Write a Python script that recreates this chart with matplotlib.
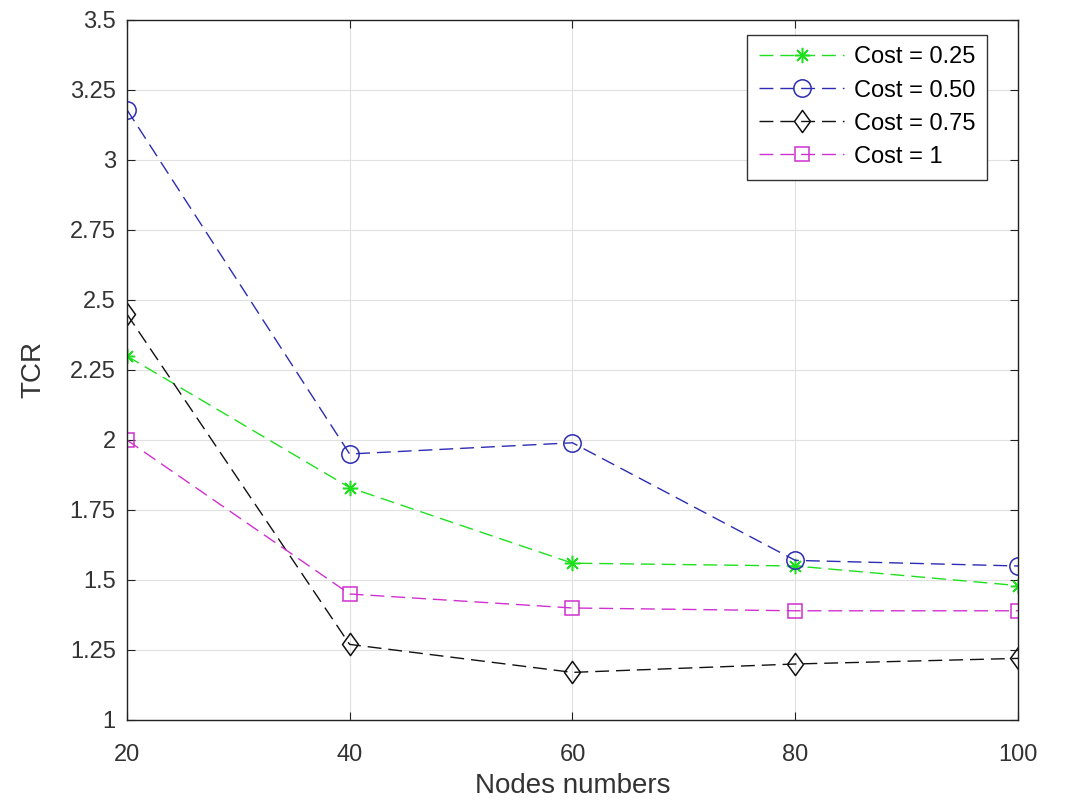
import numpy as np
import matplotlib.pyplot as plt
from matplotlib.path import Path

plt.rcParams['font.family'] = ['Liberation Sans', 'DejaVu Sans']

nodes = [20, 40, 60, 80, 100]
cost_025 = [2.30, 1.83, 1.56, 1.55, 1.48]
cost_050 = [3.18, 1.95, 1.99, 1.57, 1.55]
cost_075 = [2.45, 1.27, 1.17, 1.20, 1.22]
cost_100 = [2.00, 1.45, 1.40, 1.39, 1.39]

labels = ['Cost = 0.25', 'Cost = 0.50', 'Cost = 0.75', 'Cost = 1']
yticks = [1, 1.25, 1.5, 1.75, 2, 2.25, 2.5, 2.75, 3, 3.25, 3.5]
ytick_labels = ['1', '1.25', '1.5', '1.75', '2', '2.25', '2.5', '2.75', '3', '3.25', '3.5']

# matlab style diamond (a bit taller than wide)
diamond = Path([(0, 1), (0.72, 0), (0, -1), (-0.72, 0), (0, 1)],
               [Path.MOVETO, Path.LINETO, Path.LINETO, Path.LINETO, Path.CLOSEPOLY])

fig = plt.figure(figsize=(10.66, 8.05), dpi=100)
ax = fig.add_axes([0.119, 0.1056, 0.836, 0.8696])

styles = [
    (cost_025, '#1ee01e', (8, 2, 0), 11),
    (cost_050, '#2c2cb4', 'o', 12.5),
    (cost_075, '#111111', diamond, 16),
    (cost_100, '#d030d0', 's', 10),
]
for (vals, col, mk, ms), lab in zip(styles, labels):
    ax.plot(nodes, vals, linestyle=(0, (10, 5)), color=col, marker=mk,
            markersize=ms, markerfacecolor='none', markeredgecolor=col,
            markeredgewidth=1.1, linewidth=1.0, label=lab)

ax.set_xlim(20, 100)
ax.set_ylim(1, 3.5)
ax.set_xticks(nodes)
ax.set_yticks(yticks)
ax.set_yticklabels(ytick_labels)
ax.grid(True, color='#e0e0e0', linewidth=0.8)
ax.set_axisbelow(True)
ax.tick_params(direction='in', length=6, labelsize=17, width=0.8,
               top=True, right=True, colors='#222222', labelcolor='#333333')
ax.tick_params(axis='x', pad=17)
ax.tick_params(axis='y', pad=8)
for s in ax.spines.values():
    s.set_linewidth(1.0)
    s.set_color('#222222')

ax.set_xlabel('Nodes numbers', fontsize=20, color='#333333', labelpad=5)
ax.set_ylabel('TCR', fontsize=20, color='#333333', labelpad=17)

leg = ax.legend(loc='upper right', bbox_to_anchor=(0.965, 0.979),
                fontsize=17, fancybox=False, framealpha=1, edgecolor='#333333',
                handlelength=3.6, borderaxespad=0, borderpad=0.5,
                labelspacing=0.47, handletextpad=0.4)
leg.get_frame().set_linewidth(1.0)

plt.savefig('out.png', dpi=100)
